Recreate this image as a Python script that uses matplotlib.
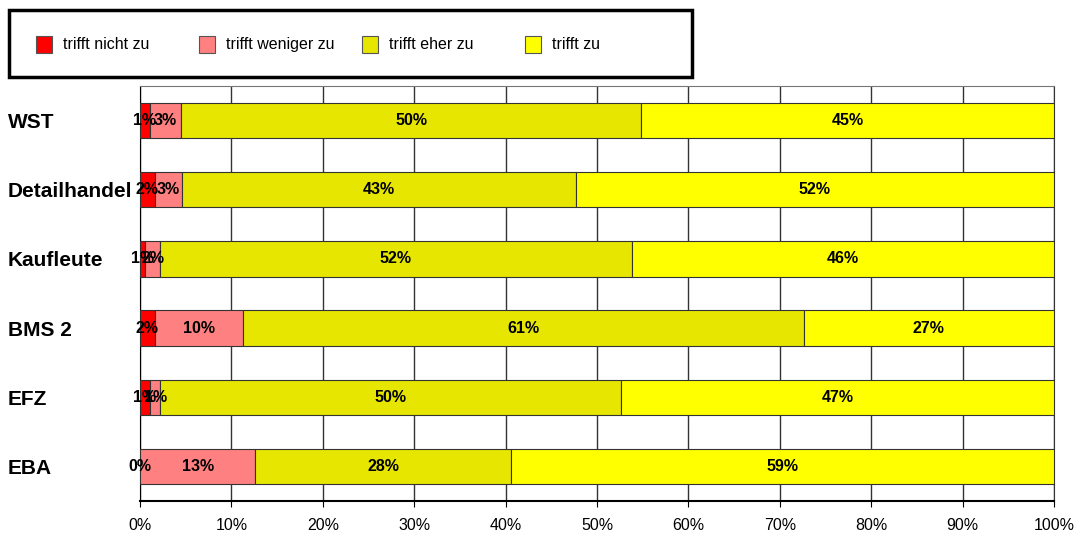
import numpy as np
import matplotlib
matplotlib.use("Agg")
import matplotlib.pyplot as plt
from matplotlib.patches import Rectangle

plt.rcParams['font.family'] = ['Liberation Sans', 'DejaVu Sans']

# Daten (Prozent)
kategorien = ['WST', 'Detailhandel', 'Kaufleute', 'BMS 2', 'EFZ', 'EBA']
serien = ['trifft nicht zu', 'trifft weniger zu', 'trifft eher zu', 'trifft zu']
farben = ['#FF0000', '#FF8080', '#E6E600', '#FFFF00']

nicht_zu = [1.1, 1.6, 0.6, 1.6, 1.1, 0.0]
weniger_zu = [3.4, 3.0, 1.6, 9.7, 1.1, 12.6]
eher_zu = [50.3, 43.1, 51.6, 61.3, 50.4, 28.0]
zu = [45.2, 52.3, 46.2, 27.4, 47.4, 59.4]

werte = [nicht_zu, weniger_zu, eher_zu, zu]

fig = plt.figure(figsize=(10.78, 5.33), dpi=100)
ax = fig.add_axes([140/1078, 1-501/533, (1054-140)/1078, (501-86)/533])

y = np.arange(len(kategorien))
links = np.zeros(len(kategorien))
for name, w, c in zip(serien, werte, farben):
    w = np.array(w)
    ax.barh(y, w, left=links, height=0.51, color=c, edgecolor='#333333',
            linewidth=0.8, label=name, zorder=3)
    for yi, li, wi in zip(y, links, w):
        ax.text(li + wi/2, yi, '%d%%' % round(wi), ha='center', va='center',
                fontsize=11.5, fontweight='bold', zorder=4)
    links = links + w

ax.set_xlim(0, 100)
ax.set_ylim(5.5, -0.5)
ax.set_xticks(np.arange(0, 101, 10))
ax.set_xticklabels(['%d%%' % v for v in range(0, 101, 10)], fontsize=11.5)
ax.tick_params(axis='x', length=4, pad=8)
ax.xaxis.grid(True, color='#333333', linewidth=1, zorder=0)

ax.set_yticks(y)
ax.set_yticklabels(kategorien, fontsize=15, fontweight='bold', ha='left')
ax.tick_params(axis='y', length=0, pad=95)

ax.spines['top'].set_color('#777777')
ax.spines['right'].set_color('#333333')
ax.spines['left'].set_color('black')
ax.spines['bottom'].set_color('black')
ax.spines['bottom'].set_linewidth(1.5)

# Legende mit Rahmen
W, H = 1078, 533
fig.patches.append(Rectangle((9/W, 1-77/H), (692-9)/W, (77-10)/H, transform=fig.transFigure,
                             fill=False, edgecolor='black', linewidth=2.5))
for i, (name, c) in enumerate(zip(serien, farben)):
    x0 = 36 + i*163
    fig.patches.append(Rectangle((x0/W, 1-53/H), 16/W, 17/H, transform=fig.transFigure,
                                 facecolor=c, edgecolor='#555555', linewidth=0.8))
    fig.text((x0+27)/W, 1-45/H, name, fontsize=11.5, va='center', ha='left')

plt.savefig('out.png', dpi=100)
